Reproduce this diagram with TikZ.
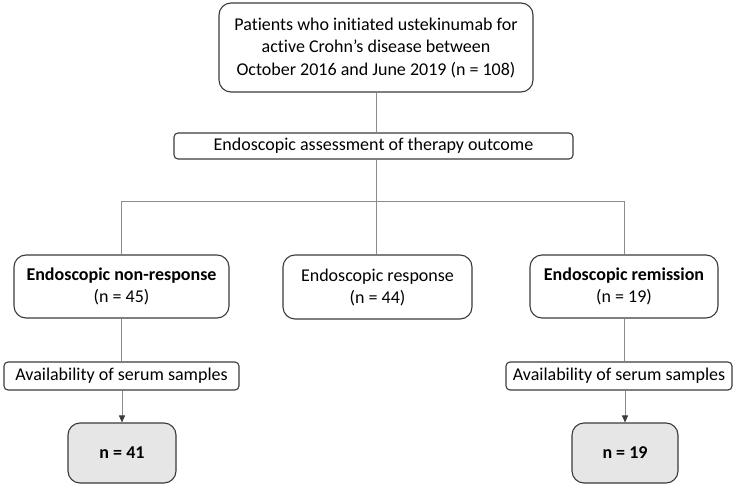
\documentclass[tikz,border=0pt]{standalone}
\usepackage{fontspec}
\setmainfont[Ligatures={NoCommon}]{Carlito}
\usetikzlibrary{arrows.meta}
\definecolor{boxline}{HTML}{3A3A3A}
\definecolor{conn}{HTML}{8C8C8C}
\definecolor{greyfill}{HTML}{E6E6E6}
\begin{document}
\begin{tikzpicture}[x=1pt,y=-1pt,
  bigbox/.style={draw=boxline,line width=1.1pt,rounded corners=12pt,align=center,inner sep=0pt,font=\fontsize{18}{22.5}\selectfont},
  slimbox/.style={draw=boxline,line width=1.1pt,rounded corners=4pt,align=center,inner sep=0pt,font=\fontsize{18}{20}\selectfont},
  resbox/.style={bigbox,fill=greyfill,font=\fontsize{18}{20}\selectfont\bfseries},
  link/.style={draw=conn,line width=0.9pt},
  arrowlink/.style={link,-{Triangle[length=7pt,width=6pt,color=boxline]}}]
\useasboundingbox (0,0) rectangle (746,492);
\node[bigbox,minimum width=314pt,minimum height=89pt] (top) at (376,47.5)
  {Patients who initiated ustekinumab for\\active Crohn’s disease between\\October 2016 and June 2019 (n = 108)};
\node[slimbox,minimum width=399pt,minimum height=26pt] (assess) at (373.5,146)
  {Endoscopic assessment of therapy outcome};
\coordinate (junc) at (376,201);
\node[bigbox,minimum width=215pt,minimum height=63pt,font=\fontsize{18}{22}\selectfont] (nonresp) at (121.5,286.5)
  {\textbf{Endoscopic non-response}\\(n = 45)};
\node[bigbox,minimum width=189pt,minimum height=64pt,font=\fontsize{18}{22}\selectfont] (resp) at (377.5,287)
  {Endoscopic response\\(n = 44)};
\node[bigbox,minimum width=188pt,minimum height=63pt,font=\fontsize{18}{22}\selectfont] (remis) at (624,286.5)
  {\textbf{Endoscopic remission}\\(n = 19)};
\node[slimbox,minimum width=235pt,minimum height=28pt] (availL) at (121.5,376)
  {Availability of serum samples};
\node[slimbox,minimum width=226pt,minimum height=28pt] (availR) at (619,376)
  {Availability of serum samples};
\node[resbox,minimum width=108pt,minimum height=60pt] (nL) at (122,453) {n = 41};
\node[resbox,minimum width=106pt,minimum height=60pt] (nR) at (625,453) {n = 19};
\draw[link] (top.south) -- (top.south |- assess.north);
\draw[link] (assess.south -| junc) -- (junc);
\draw[link] (junc) -| (nonresp.north);
\draw[link] (junc) -| (remis.north);
\draw[link] (junc) -- (junc |- resp.north);
\draw[link] (nonresp.south) -- (nonresp.south |- availL.north);
\draw[link] (remis.south) -- (remis.south |- availR.north);
\draw[arrowlink] (availL.south -| nL.north) -- (nL.north);
\draw[arrowlink] (availR.south -| nR.north) -- (nR.north);
\end{tikzpicture}
\end{document}
